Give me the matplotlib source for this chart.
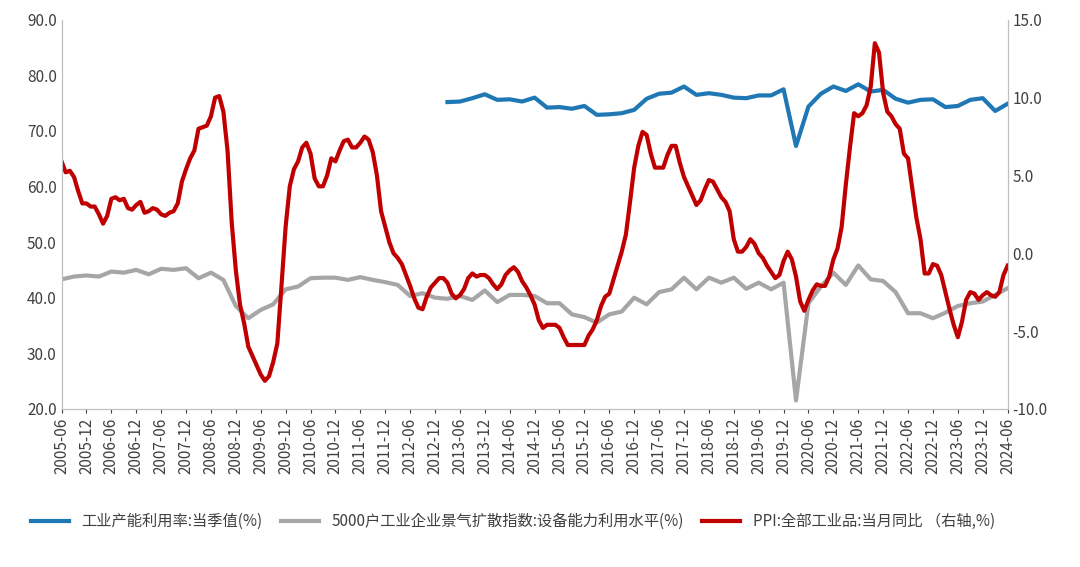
import matplotlib
matplotlib.use("Agg")
import matplotlib.pyplot as plt
from matplotlib import font_manager as fm
import numpy as np
import glob

cjk_files = [f for f in fm.findSystemFonts() if "CJK" in f or "cjk" in f.lower()]
fam = None
for f in cjk_files:
    try:
        fm.fontManager.addfont(f)
    except Exception:
        pass
names = sorted({e.name for e in fm.fontManager.ttflist if "CJK" in e.name})
for pref in ("Noto Sans CJK SC", "Noto Sans CJK JP"):
    if pref in names:
        fam = pref
        break
if fam is None and names:
    fam = names[0]
plt.rcParams["font.family"] = [fam, "DejaVu Sans"] if fam else ["DejaVu Sans"]

# PPI monthly, 2005-06 .. 2024-06
ppi = [5.9,5.2,5.3,4.9,4.0,3.2,3.2,
 3.0,3.0,2.5,1.9,2.4,3.5,3.6,3.4,3.5,2.9,2.8,3.1,
 3.3,2.6,2.7,2.9,2.8,2.5,2.4,2.6,2.7,3.2,4.6,5.4,
 6.1,6.6,8.0,8.1,8.2,8.8,10.0,10.1,9.1,6.6,2.0,-1.1,
 -3.3,-4.5,-6.0,-6.6,-7.2,-7.8,-8.2,-7.9,-7.0,-5.8,-2.1,1.7,
 4.3,5.4,5.9,6.8,7.1,6.4,4.8,4.3,4.3,5.0,6.1,5.9,
 6.6,7.2,7.3,6.8,6.8,7.1,7.5,7.3,6.5,5.0,2.7,1.7,
 0.7,0.0,-0.3,-0.7,-1.4,-2.1,-2.9,-3.5,-3.6,-2.8,-2.2,-1.9,
 -1.6,-1.6,-1.9,-2.6,-2.9,-2.7,-2.3,-1.6,-1.3,-1.5,-1.4,-1.4,
 -1.6,-2.0,-2.3,-2.0,-1.4,-1.1,-0.9,-1.2,-1.8,-2.2,-2.7,-3.3,
 -4.3,-4.8,-4.6,-4.6,-4.6,-4.8,-5.4,-5.9,-5.9,-5.9,-5.9,-5.9,
 -5.3,-4.9,-4.3,-3.4,-2.8,-2.6,-1.7,-0.8,0.1,1.2,3.3,5.5,
 6.9,7.8,7.6,6.4,5.5,5.5,5.5,6.3,6.9,6.9,5.8,4.9,
 4.3,3.7,3.1,3.4,4.1,4.7,4.6,4.1,3.6,3.3,2.7,0.9,
 0.1,0.1,0.4,0.9,0.6,0.0,-0.3,-0.8,-1.2,-1.6,-1.4,-0.5,
 0.1,-0.4,-1.5,-3.1,-3.7,-3.0,-2.4,-2.0,-2.1,-2.1,-1.5,-0.4,
 0.3,1.7,4.4,6.8,9.0,8.8,9.0,9.5,10.7,13.5,12.9,10.3,
 9.1,8.8,8.3,8.0,6.4,6.1,4.2,2.3,0.9,-1.3,-1.3,-0.7,
 -0.8,-1.4,-2.5,-3.6,-4.6,-5.4,-4.4,-3.0,-2.5,-2.6,-3.0,-2.7,
 -2.5,-2.7,-2.8,-2.5,-1.4,-0.8]

# 工业产能利用率 quarterly, 2013-03 .. 2024-06
cap_util = [75.2,75.3,75.9,76.6,75.6,75.7,75.3,76.0,74.2,74.3,74.0,74.5,
 72.9,73.0,73.2,73.8,75.8,76.7,76.9,78.0,76.5,76.8,76.5,76.0,
 75.9,76.4,76.4,77.5,67.3,74.4,76.7,78.0,77.2,78.4,77.1,77.4,
 75.8,75.1,75.6,75.7,74.3,74.5,75.6,75.9,73.6,74.9]

# 设备能力利用水平 quarterly, 2005-06 .. 2024-06
equip = [43.3,43.8,44.0,
 43.8,44.7,44.5,45.0, 44.2,45.2,45.0,45.3, 43.5,44.5,43.2,38.5,
 36.3,37.8,38.8,41.5, 42.0,43.5,43.6,43.6, 43.2,43.7,43.2,42.8,
 42.3,40.3,40.8,40.0, 39.8,40.3,39.6,41.3, 39.2,40.5,40.5,40.3,
 39.0,39.0,37.0,36.5, 35.5,37.0,37.5,40.0, 38.8,41.0,41.5,43.6,
 41.5,43.6,42.7,43.6, 41.6,42.7,41.5,42.7, 21.5,39.0,42.0,44.5,
 42.3,45.8,43.3,43.0, 41.0,37.2,37.2,36.3, 37.3,38.5,39.0,39.3,
 40.5,41.7]

tick_labels = [f"{y}-{m}" for y in range(2005, 2025) for m in ("06", "12")][:-1]

x_ppi = np.arange(len(ppi))
x_cap = 93 + 3 * np.arange(len(cap_util))   # 2013-03 is month index 93
x_eq = 3 * np.arange(len(equip))

fig = plt.figure(figsize=(10.8, 5.67), dpi=100)
ax = fig.add_axes([0.057, 0.279, 0.876, 0.686])
ax2 = ax.twinx()

l1, = ax.plot(x_cap, cap_util, color="#1F77B4", lw=3, label="工业产能利用率:当季值(%)")
l2, = ax.plot(x_eq, equip, color="#A6A6A6", lw=3, label="5000户工业企业景气扩散指数:设备能力利用水平(%)")
l3, = ax2.plot(x_ppi, ppi, color="#C00000", lw=3, label="PPI:全部工业品:当月同比 （右轴,%)")

ax.set_ylim(20, 90)
ax.set_yticks(np.arange(20, 91, 10))
ax.set_yticklabels([f"{v:.1f}" for v in np.arange(20, 91, 10)])
ax2.set_ylim(-10, 15)
ax2.set_yticks(np.arange(-10, 16, 5))
ax2.set_yticklabels([f"{v:.1f}" for v in np.arange(-10, 16, 5)])
ax.set_xlim(0, 228)
ax.set_xticks(np.arange(0, 229, 6))
ax.set_xticklabels(tick_labels, rotation=90, fontsize=10)
for a in (ax, ax2):
    a.tick_params(labelsize=11, colors="#404040", length=3)
    a.spines["top"].set_visible(False)
    for s in ("left", "right", "bottom"):
        a.spines[s].set_color("#BFBFBF")
ax.tick_params(axis="y", length=0)
ax2.tick_params(axis="y", length=0)

fig.legend(handles=[l1, l2, l3], loc="center", bbox_to_anchor=(0.475, 0.08),
           ncol=3, frameon=False, fontsize=11, handlelength=2.5, columnspacing=1.2,
           labelcolor="#404040")
fig.savefig("out.png", dpi=100)
